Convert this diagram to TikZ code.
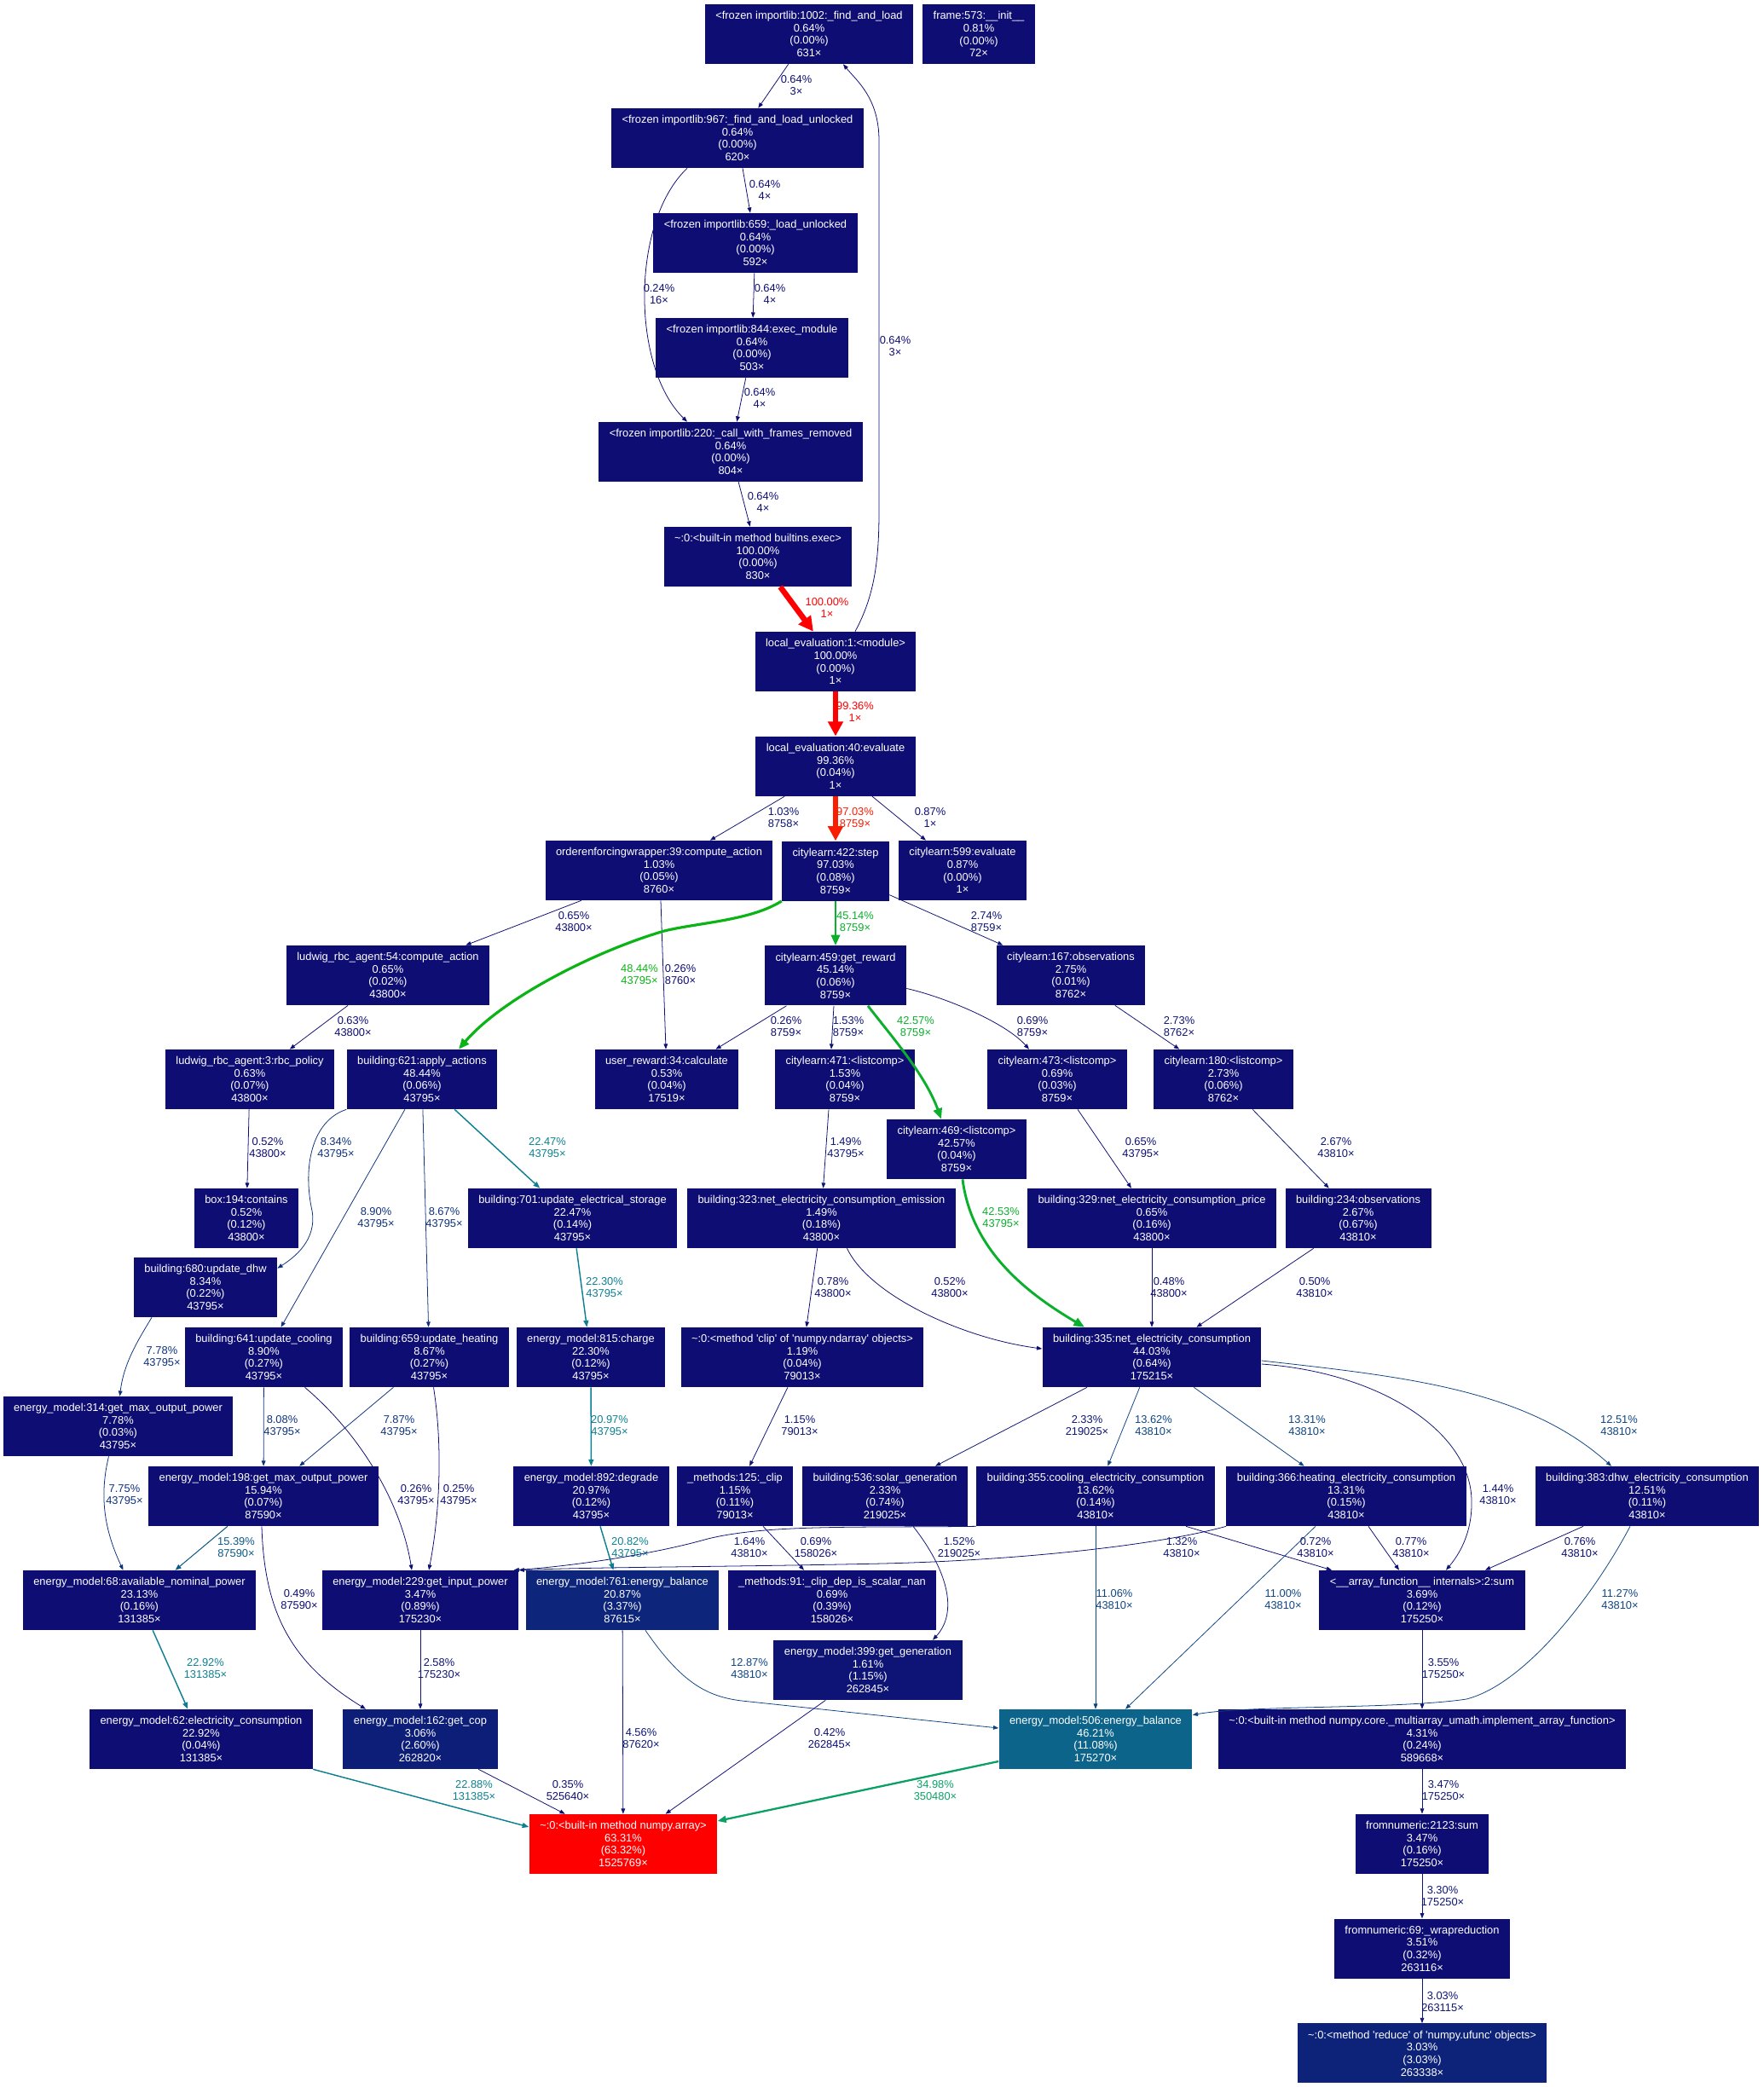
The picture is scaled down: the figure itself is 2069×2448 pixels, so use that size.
\documentclass[tikz,border=0pt]{standalone}
\usepackage{fontspec}
\setmainfont{Liberation Sans}
\usepackage{tikz}
\usetikzlibrary{arrows.meta,calc,positioning}
\newcommand{\gvsize}{\fontsize{8.24}{9.4}\selectfont}
\newcommand{\sq}{\textquotesingle}
\definecolor{cold}{HTML}{0D0D73}
\definecolor{selfa}{HTML}{0D1475}
\definecolor{selfb}{HTML}{0D1E78}
\definecolor{selfc}{HTML}{0D2279}
\definecolor{selfd}{HTML}{0D257A}
\definecolor{selfe}{HTML}{0C648A}
\definecolor{selfhot}{HTML}{FF0000}
\definecolor{ec0}{HTML}{0D0D73}
\definecolor{ec1}{HTML}{0D1575}
\definecolor{ec8}{HTML}{0D327D}
\definecolor{ec12}{HTML}{0D4582}
\definecolor{ec15}{HTML}{0C5887}
\definecolor{ec22}{HTML}{0C8090}
\definecolor{ec35}{HTML}{0BA165}
\definecolor{ec45}{HTML}{0AAF2B}
\definecolor{ec48}{HTML}{0AB415}
\definecolor{ec97}{HTML}{F91E02}
\definecolor{ec100}{HTML}{FF0000}
\tikzset{
  fn/.style={rectangle, fill=#1, text=white, align=center, inner xsep=8pt, inner ysep=2pt, minimum height=44.8pt, font=\gvsize},
  fn/.default=cold,
  lab/.style={align=center, inner sep=0pt, font=\gvsize},
  small/.style={line width=.5pt, -{Triangle[length=4pt,width=3pt]}},
  e0/.style={small, color=ec0},
  e1/.style={small, color=ec1},
  e8/.style={small, color=ec8},
  e12/.style={small, color=ec12},
  e15/.style={line width=.65pt, color=ec15, -{Triangle[length=4.5pt,width=3.4pt]}},
  e22/.style={line width=.92pt, color=ec22, -{Triangle[length=5pt,width=3.8pt]}},
  e35/.style={line width=1.47pt, color=ec35, -{Triangle[length=6.5pt,width=5pt]}},
  e45/.style={line width=1.85pt, color=ec45, -{Triangle[length=8pt,width=6.5pt]}},
  e48/.style={line width=2.03pt, color=ec48, -{Triangle[length=8pt,width=6.5pt]}},
  e97/.style={line width=4.1pt, color=ec97, -{Triangle[length=11pt,width=11pt]}},
  e100/.style={line width=4.2pt, color=ec100, -{Triangle[length=11pt,width=11pt]}}
}
\begin{document}
\begin{tikzpicture}[x=0.64pt,y=-0.64pt,node distance=78.6pt,line join=bevel]
\useasboundingbox (0,0) rectangle (2069,2448);
\node [fn] at (949,40) (imp1002) {<frozen importlib:1002:\_find\_and\_load\\0.64\%\\(0.00\%)\\631×};
\node [fn] at (1148,40) (frame) {frame:573:\_\_init\_\_\\0.81\%\\(0.00\%)\\72×};
\node [fn] at (865,162) (imp967) {<frozen importlib:967:\_find\_and\_load\_unlocked\\0.64\%\\(0.00\%)\\620×};
\node [fn] at (886,285) (imp659) {<frozen importlib:659:\_load\_unlocked\\0.64\%\\(0.00\%)\\592×};
\node [fn] at (882,408) (imp844) {<frozen importlib:844:exec\_module\\0.64\%\\(0.00\%)\\503×};
\node [fn] at (857,530) (imp220) {<frozen importlib:220:\_call\_with\_frames\_removed\\0.64\%\\(0.00\%)\\804×};
\node [fn] at (889,653) (exec) {\textasciitilde:0:<built-in method builtins.exec>\\100.00\%\\(0.00\%)\\830×};
\node [fn] at (980,776) (le1) {local\_evaluation:1:<module>\\100.00\%\\(0.00\%)\\1×};
\node [fn, below of=le1] (le40) {local\_evaluation:40:evaluate\\99.36\%\\(0.04\%)\\1×};
\node [fn, below of=le40] (step) {citylearn:422:step\\97.03\%\\(0.08\%)\\8759×};
\node [fn] at (773,1021) (oew) {orderenforcingwrapper:39:compute\_action\\1.03\%\\(0.05\%)\\8760×};
\node [fn] at (1129,1021) (cev) {citylearn:599:evaluate\\0.87\%\\(0.00\%)\\1×};
\node [fn, below of=step] (rew) {citylearn:459:get\_reward\\45.14\%\\(0.06\%)\\8759×};
\node [fn] at (455,1144) (rbc54) {ludwig\_rbc\_agent:54:compute\_action\\0.65\%\\(0.02\%)\\43800×};
\node [fn] at (1256,1144) (obs167) {citylearn:167:observations\\2.75\%\\(0.01\%)\\8762×};
\node [fn] at (293,1266) (rbc3) {ludwig\_rbc\_agent:3:rbc\_policy\\0.63\%\\(0.07\%)\\43800×};
\node [fn] at (495,1266) (app) {building:621:apply\_actions\\48.44\%\\(0.06\%)\\43795×};
\node [fn] at (782,1266) (ur) {user\_reward:34:calculate\\0.53\%\\(0.04\%)\\17519×};
\node [fn] at (991,1266) (lc471) {citylearn:471:<listcomp>\\1.53\%\\(0.04\%)\\8759×};
\node [fn] at (1240,1266) (lc473) {citylearn:473:<listcomp>\\0.69\%\\(0.03\%)\\8759×};
\node [fn] at (1435,1266) (lc180) {citylearn:180:<listcomp>\\2.73\%\\(0.06\%)\\8762×};
\node [fn] at (1122,1348) (lc469) {citylearn:469:<listcomp>\\42.57\%\\(0.04\%)\\8759×};
\node [fn] at (289,1429) (box) {box:194:contains\\0.52\%\\(0.12\%)\\43800×};
\node [fn] at (671.5,1429) (b701) {building:701:update\_electrical\_storage\\22.47\%\\(0.14\%)\\43795×};
\node [fn] at (963.5,1429) (b323) {building:323:net\_electricity\_consumption\_emission\\1.49\%\\(0.18\%)\\43800×};
\node [fn] at (1351,1429) (b329) {building:329:net\_electricity\_consumption\_price\\0.65\%\\(0.16\%)\\43800×};
\node [fn] at (1593,1429) (b234) {building:234:observations\\2.67\%\\(0.67\%)\\43810×};
\node [fn] at (241,1510) (b680) {building:680:update\_dhw\\8.34\%\\(0.22\%)\\43795×};
\node [fn] at (309.5,1592) (b641) {building:641:update\_cooling\\8.90\%\\(0.27\%)\\43795×};
\node [fn] at (503.5,1592) (b659) {building:659:update\_heating\\8.67\%\\(0.27\%)\\43795×};
\node [fn] at (693,1592) (e815) {energy\_model:815:charge\\22.30\%\\(0.12\%)\\43795×};
\node [fn] at (941,1592) (clip) {\textasciitilde:0:<method \sq clip\sq\ of \sq numpy.ndarray\sq\ objects>\\1.19\%\\(0.04\%)\\79013×};
\node [fn] at (1351,1592) (b335) {building:335:net\_electricity\_consumption\\44.03\%\\(0.64\%)\\175215×};
\node [fn] at (138.5,1673) (e314) {energy\_model:314:get\_max\_output\_power\\7.78\%\\(0.03\%)\\43795×};
\node [fn] at (309,1755) (e198) {energy\_model:198:get\_max\_output\_power\\15.94\%\\(0.07\%)\\87590×};
\node [fn] at (693.5,1755) (e892) {energy\_model:892:degrade\\20.97\%\\(0.12\%)\\43795×};
\node [fn] at (862,1755) (m125) {\_methods:125:\_clip\\1.15\%\\(0.11\%)\\79013×};
\node [fn] at (1038,1755) (b536) {building:536:solar\_generation\\2.33\%\\(0.74\%)\\219025×};
\node [fn] at (1285,1755) (b355) {building:355:cooling\_electricity\_consumption\\13.62\%\\(0.14\%)\\43810×};
\node [fn] at (1579,1755) (b366) {building:366:heating\_electricity\_consumption\\13.31\%\\(0.15\%)\\43810×};
\node [fn] at (1932,1755) (b383) {building:383:dhw\_electricity\_consumption\\12.51\%\\(0.11\%)\\43810×};
\node [fn] at (163.5,1877) (e68) {energy\_model:68:available\_nominal\_power\\23.13\%\\(0.16\%)\\131385×};
\node [fn] at (493,1877) (e229) {energy\_model:229:get\_input\_power\\3.47\%\\(0.89\%)\\175230×};
\node [fn=selfd] at (730,1877) (e761) {energy\_model:761:energy\_balance\\20.87\%\\(3.37\%)\\87615×};
\node [fn] at (976,1877) (m91) {\_methods:91:\_clip\_dep\_is\_scalar\_nan\\0.69\%\\(0.39\%)\\158026×};
\node [fn] at (1668,1877) (asum) {<\_\_array\_function\_\_ internals>:2:sum\\3.69\%\\(0.12\%)\\175250×};
\node [fn=selfa] at (1018,1959) (e399) {energy\_model:399:get\_generation\\1.61\%\\(1.15\%)\\262845×};
\node [fn] at (236,2040) (e62) {energy\_model:62:electricity\_consumption\\22.92\%\\(0.04\%)\\131385×};
\node [fn=selfb] at (493,2040) (e162) {energy\_model:162:get\_cop\\3.06\%\\(2.60\%)\\262820×};
\node [fn=selfe] at (1285,2040) (e506) {energy\_model:506:energy\_balance\\46.21\%\\(11.08\%)\\175270×};
\node [fn] at (1668,2040) (impl) {\textasciitilde:0:<built-in method numpy.core.\_multiarray\_umath.implement\_array\_function>\\4.31\%\\(0.24\%)\\589668×};
\node [fn=selfhot] at (731,2163) (arr) {\textasciitilde:0:<built-in method numpy.array>\\63.31\%\\(63.32\%)\\1525769×};
\node [fn, below of=impl] (fn2123) {fromnumeric:2123:sum\\3.47\%\\(0.16\%)\\175250×};
\node [fn, below of=fn2123] (fn69) {fromnumeric:69:\_wrapreduction\\3.51\%\\(0.32\%)\\263116×};
\node [fn=selfc, below of=fn69] (ufred) {\textasciitilde:0:<method \sq reduce\sq\ of \sq numpy.ufunc\sq\ objects>\\3.03\%\\(3.03\%)\\263338×};

\draw [e0] (imp1002) -- (imp967) node [lab] (l01) at (934,100) {0.64\%\\3×};
\draw [e0] (imp967) -- (imp659) node [lab] (l02) at (897,223) {0.64\%\\4×};
\draw [e0] ($(imp967.south)+(-59,0)$) .. controls (740,260) and (740,430) .. ($(imp220.north)+(-51,0)$) node [lab] (l03) at (773,345) {0.24\%\\16×};
\draw [e0] (imp659) -- (imp844) node [lab] (l04) at (903,345) {0.64\%\\4×};
\draw [e0] (imp844) -- (imp220) node [lab] (l05) at (891,467) {0.64\%\\4×};
\draw [e0] (imp220) -- (exec) node [lab] (l06) at (895,589) {0.64\%\\4×};
\draw [e100] (exec) -- (le1) node [lab] (l07) at (970,713) {100.00\%\\1×};
\draw [e0] ($(le1.north)+(23,0)$) .. controls (1025,700) and (1031,660) .. (1031,600) -- (1031,165) .. controls (1031,115) and (1005,95) .. ($(imp1002.south)+(40,0)$) node [lab] (l08) at (1050,406) {0.64\%\\3×};
\draw [e100] (le1) -- (le40) node [lab] (l09) at (1003,835) {99.36\%\\1×};
\draw [e1] (le40) -- (oew) node [lab] (l10) at (919,959) {1.03\%\\8758×};
\draw [e97] (le40) -- (step) node [lab] (l11) at (1003,959) {97.03\%\\8759×};
\draw [e0] (le40) -- (cev) node [lab] (l12) at (1091,959) {0.87\%\\1×};
\draw [e0] (oew) -- (rbc54) node [lab] (l13) at (673,1081) {0.65\%\\43800×};
\draw [e0] ($(oew.south)+(2,0)$) -- ($(ur.north)+(-1,0)$) node [lab] (l14) at (798,1143) {0.26\%\\8760×};
\draw [e48] (step.south west) .. controls (880,1080) and (820,1082) .. (779,1092) .. controls (700,1115) and (590,1170) .. ($(app.north)+(43,0)$) node [lab] (l15) at (750,1143) {48.44\%\\43795×};
\draw [e45] (step) -- (rew) node [lab] (l16) at (1003,1081) {45.14\%\\8759×};
\draw [e1] (step) -- (obs167) node [lab] (l17) at (1157,1081) {2.74\%\\8759×};
\draw [e0] (rbc54) -- (rbc3) node [lab] (l18) at (414,1204) {0.63\%\\43800×};
\draw [e0] (rew) -- (ur) node [lab] (l19) at (922,1204) {0.26\%\\8759×};
\draw [e1] ($(rew.south)+(-2,0)$) -- ($(lc471.north)+(-16,0)$) node [lab] (l20) at (995,1204) {1.53\%\\8759×};
\draw [e45] ($(rew.south)+(38,0)$) .. controls (1045,1215) and (1085,1260) .. ($(lc469.north)+(-18,0)$) node [lab] (l21) at (1074,1204) {42.57\%\\8759×};
\draw [e0] ($(rew.east)+(0,15)$) .. controls (1110,1170) and (1180,1200) .. ($(lc473.north)+(-33,0)$) node [lab] (l22) at (1211,1204) {0.69\%\\8759×};
\draw [e1] (obs167) -- (lc180) node [lab] (l23) at (1383,1204) {2.73\%\\8762×};
\draw [e0] (rbc3) -- (box) node [lab] (l24) at (314,1346) {0.52\%\\43800×};
\draw [e8] (app.south west) .. controls (365,1315) and (355,1370) .. (366,1420) .. controls (372,1455) and (345,1475) .. ($(b680.north east)+(0,13)$) node [lab] (l25) at (394,1346) {8.34\%\\43795×};
\draw [e8] (app) -- (b641) node [lab] (l26) at (441,1428) {8.90\%\\43795×};
\draw [e8] (app) -- (b659) node [lab] (l27) at (521,1428) {8.67\%\\43795×};
\draw [e22] (app) -- (b701) node [lab] (l28) at (642,1346) {22.47\%\\43795×};
\draw [e1] ($(lc471.south)+(-19,0)$) -- ($(b323.north)+(2,0)$) node [lab] (l29) at (992,1346) {1.49\%\\43795×};
\draw [e45] ($(lc469.south)+(7,0)$) .. controls (1140,1470) and (1210,1520) .. ($(b335.north)+(-79,0)$) node [lab] (l30) at (1174,1428) {42.53\%\\43795×};
\draw [e0] (lc473) -- (b329) node [lab] (l31) at (1338,1346) {0.65\%\\43795×};
\draw [e1] (lc180) -- (b234) node [lab] (l32) at (1567,1346) {2.67\%\\43810×};
\draw [e22] (b701) -- (e815) node [lab] (l33) at (709,1510) {22.30\%\\43795×};
\draw [e0] (b323) -- (clip) node [lab] (l34) at (977,1510) {0.78\%\\43800×};
\draw [e0] ($(b323.south)+(30,0)$) .. controls (1020,1520) and (1130,1570) .. ($(b335.west)+(0,-10)$) node [lab] (l35) at (1114,1510) {0.52\%\\43800×};
\draw [e0] (b329) -- (b335) node [lab] (l36) at (1371,1510) {0.48\%\\43800×};
\draw [e0] (b234) -- (b335) node [lab] (l37) at (1542,1510) {0.50\%\\43810×};
\draw [e8] ($(b680.south)+(-63,0)$) .. controls (160,1575) and (145,1600) .. ($(e314.north)+(2,0)$) node [lab] (l38) at (190,1591) {7.78\%\\43795×};
\draw [e8] (b641) -- (e198) node [lab] (l39) at (331,1672) {8.08\%\\43795×};
\draw [e8] (b659) -- (e198) node [lab] (l40) at (468,1672) {7.87\%\\43795×};
\draw [e0] ($(b641.south)+(48,0)$) .. controls (420,1680) and (470,1760) .. ($(e229.north)+(-10,0)$) node [lab] (l41) at (488,1753) {0.26\%\\43795×};
\draw [e0] ($(b659.south)+(5,0)$) .. controls (520,1700) and (515,1780) .. ($(e229.north)+(10,0)$) node [lab] (l42) at (538,1753) {0.25\%\\43795×};
\draw [e22] (e815) -- (e892) node [lab] (l43) at (715,1672) {20.97\%\\43795×};
\draw [e1] (clip) -- (m125) node [lab] (l44) at (938,1672) {1.15\%\\79013×};
\draw [e1] ($(b335.south)+(-76,0)$) -- ($(b536.north)+(59,0)$) node [lab] (l45) at (1275,1672) {2.33\%\\219025×};
\draw [e12] (b335) -- (b355) node [lab] (l46) at (1353,1672) {13.62\%\\43810×};
\draw [e12] (b335) -- (b366) node [lab] (l47) at (1533,1672) {13.31\%\\43810×};
\draw [e1] ($(b335.east)+(0,8)$) .. controls (1620,1610) and (1725,1680) .. (1726,1760) .. controls (1727,1800) and (1710,1825) .. ($(asum.north)+(28,0)$) node [lab] (l48) at (1757,1753) {1.44\%\\43810×};
\draw [e12] ($(b335.east)+(0,4)$) .. controls (1650,1615) and (1790,1630) .. ($(b383.north)+(-42,0)$) node [lab] (l49) at (1899,1672) {12.51\%\\43810×};
\draw [e8] ($(e314.south)+(-11,0)$) .. controls (115,1760) and (125,1800) .. ($(e68.north)+(-19,0)$) node [lab] (l50) at (146,1753) {7.75\%\\43795×};
\draw [e15] (e198) -- (e68) node [lab] (l51) at (277,1815) {15.39\%\\87590×};
\draw [e0] ($(e198.south)+(-2,0)$) .. controls (310,1890) and (340,1950) .. ($(e162.north)+(-64,0)$) node [lab] (l52) at (351,1876) {0.49\%\\87590×};
\draw [e22] (e892) -- (e761) node [lab] (l53) at (739,1815) {20.82\%\\43795×};
\draw [e0] (m125) -- (m91) node [lab] (l54) at (957,1815) {0.69\%\\158026×};
\draw [e1] ($(b536.south)+(33,0)$) .. controls (1110,1840) and (1125,1890) .. ($(e399.north)+(76,0)$) node [lab] (l55) at (1125,1815) {1.52\%\\219025×};
\draw [e1] (b355.south west) .. controls (1000,1792) and (900,1788) .. (830,1805) .. controls (760,1825) and (660,1838) .. ($(e229.north east)+(-6,0)$) node [lab] (l56) at (879,1815) {1.64\%\\43810×};
\draw [e1] (b366.south west) .. controls (1360,1812) and (1200,1830) .. (1035,1834) .. controls (850,1838) and (700,1838) .. (e229.north east) node [lab] (l57) at (1386,1815) {1.32\%\\43810×};
\draw [e0] ($(b355.south)+(106,0)$) -- ($(asum.north)+(-106,0)$) node [lab] (l58) at (1543,1815) {0.72\%\\43810×};
\draw [e12] (b355) -- (e506) node [lab] (l59) at (1307,1876) {11.06\%\\43810×};
\draw [e12] ($(b366.south)+(-36,0)$) -- ($(e506.north)+(35,0)$) node [lab] (l60) at (1505,1876) {11.00\%\\43810×};
\draw [e0] ($(b366.south)+(26,0)$) -- ($(asum.north)+(-27,0)$) node [lab] (l61) at (1655,1815) {0.77\%\\43810×};
\draw [e0] ($(b383.south)+(-75,0)$) -- ($(asum.north)+(74,0)$) node [lab] (l62) at (1853,1815) {0.76\%\\43810×};
\draw [e12] ($(b383.south)+(-20,0)$) .. controls (1870,1870) and (1790,1975) .. (1720,1993) .. controls (1640,2005) and (1460,2000) .. ($(e506.north east)+(0,7)$) node [lab] (l63) at (1900,1876) {11.27\%\\43810×};
\draw [e1] (asum) -- (impl) node [lab] (l64) at (1693,1957) {3.55\%\\175250×};
\draw [e22] (e68) -- (e62) node [lab] (l65) at (241,1957) {22.92\%\\131385×};
\draw [e1] (e229) -- (e162) node [lab] (l66) at (515,1957) {2.58\%\\175230×};
\draw [e1] (e761) -- (arr) node [lab] (l67) at (752,2039) {4.56\%\\87620×};
\draw [e12] ($(e761.south)+(27,0)$) .. controls (800,1975) and (830,1990) .. (870,1995) -- ($(e506.west)+(0,-13)$) node [lab] (l68) at (879,1957) {12.87\%\\43810×};
\draw [e0] (e399) -- (arr) node [lab] (l69) at (973,2039) {0.42\%\\262845×};
\draw [e22] (e62.south east) -- ($(arr.west)+(0,-20)$) node [lab] (l70) at (556,2100) {22.88\%\\131385×};
\draw [e0] (e162) -- (arr) node [lab] (l71) at (666,2100) {0.35\%\\525640×};
\draw [e35] ($(e506.west)+(0,26)$) -- ($(arr.east)+(0,-27)$) node [lab] (l72) at (1097,2100) {34.98\%\\350480×};
\draw [e1] (impl) -- (fn2123) node [lab] (l73) at (1693,2100) {3.47\%\\175250×};
\draw [e1] (fn2123) -- (fn69) node [lab] (l74) at (1692,2224) {3.30\%\\175250×};
\draw [e1] (fn69) -- (ufred) node [lab] (l75) at (1692,2348) {3.03\%\\263115×};
\end{tikzpicture}
\end{document}
